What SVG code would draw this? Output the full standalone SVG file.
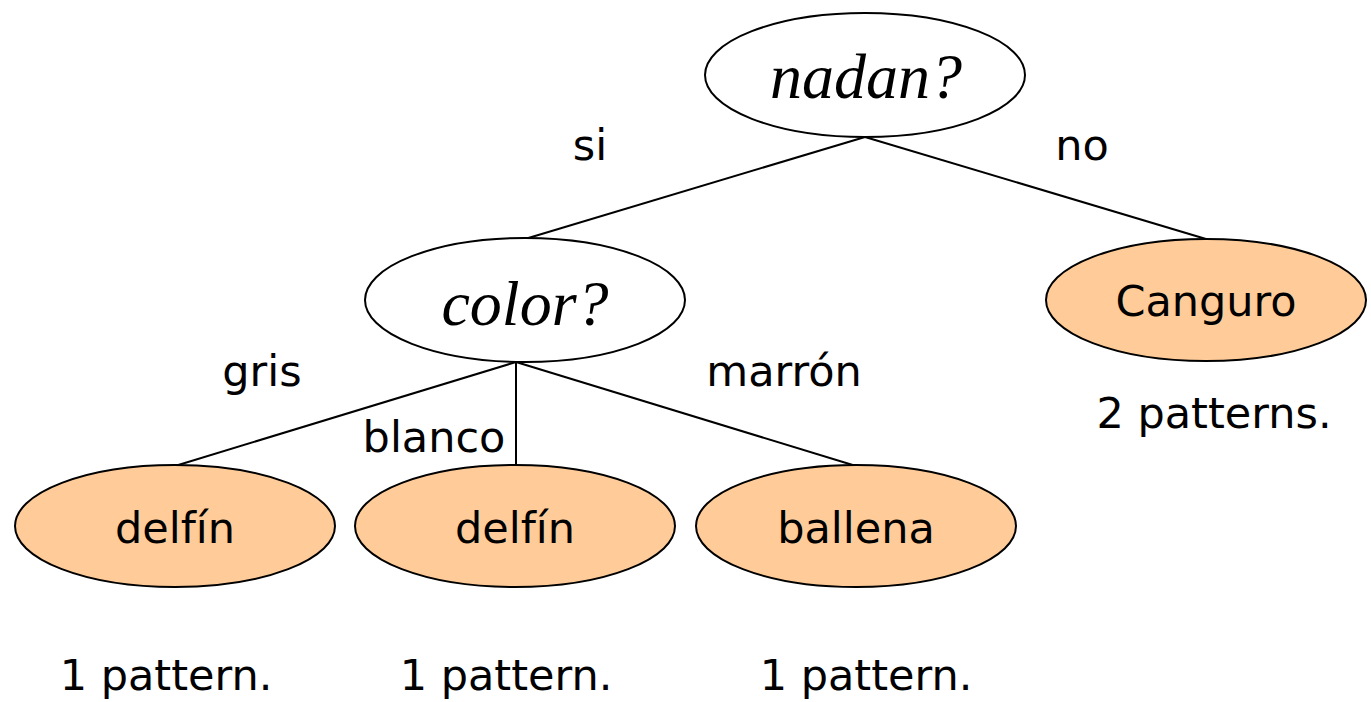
<svg xmlns="http://www.w3.org/2000/svg" width="1371" height="702" viewBox="0 0 1371 702">
<style>
.q{fill:#fff;stroke:#000;stroke-width:2}
.l{fill:#FFCC99;stroke:#000;stroke-width:2}
.qt{font-family:"Liberation Serif",serif;font-style:italic;font-size:64px;text-anchor:middle}
.t{font-family:"DejaVu Sans",sans-serif;font-size:43px;text-anchor:middle}
.c line{stroke:#000;stroke-width:2}
</style>
<rect width="1371" height="702" fill="#fff"/>
<g class="c" id="connectors">
<line x1="865" y1="137" x2="525" y2="239"/>
<line x1="865" y1="137" x2="1206" y2="239"/>
<line x1="516" y1="362" x2="175" y2="466"/>
<line x1="516" y1="362" x2="516" y2="466"/>
<line x1="516" y1="362" x2="856" y2="466"/>
</g>
<g id="nadan"><ellipse class="q" cx="865" cy="75" rx="160" ry="62"/><text class="qt" x="866" y="98">nadan?</text></g>
<g id="color"><ellipse class="q" cx="525" cy="300" rx="160" ry="62"/><text class="qt" x="525" y="325">color?</text></g>
<g id="canguro"><ellipse class="l" cx="1206" cy="300" rx="160" ry="61"/><text class="t" x="1206" y="316">Canguro</text></g>
<g id="delfin1"><ellipse class="l" cx="175" cy="526" rx="160" ry="61"/><text class="t" x="175" y="543">delfín</text></g>
<g id="delfin2"><ellipse class="l" cx="515" cy="526" rx="160" ry="61"/><text class="t" x="515" y="543">delfín</text></g>
<g id="ballena"><ellipse class="l" cx="856" cy="526" rx="160" ry="61"/><text class="t" x="856" y="543">ballena</text></g>
<g id="labels">
<text class="t" x="590" y="160">si</text>
<text class="t" x="1082" y="160">no</text>
<text class="t" x="262" y="386">gris</text>
<text class="t" x="434" y="452">blanco</text>
<text class="t" x="784" y="386">marrón</text>
<text class="t" x="1214" y="428">2 patterns.</text>
<text class="t" x="166" y="690">1 pattern.</text>
<text class="t" x="506" y="690">1 pattern.</text>
<text class="t" x="866" y="690">1 pattern.</text>
</g>
</svg>
